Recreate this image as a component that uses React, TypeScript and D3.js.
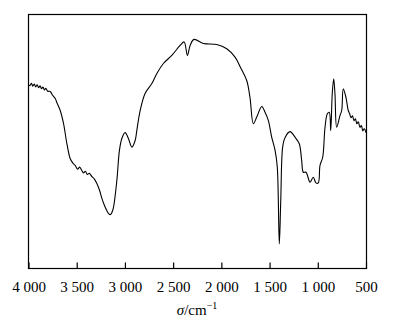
import React, { useEffect, useRef } from 'react';
import * as d3 from 'd3';

// wavenumber (cm-1) and relative transmittance
const wavenumbers = [
  4000, 3985, 3970, 3955, 3940, 3925, 3910, 3895, 3880, 3865, 3850, 3835, 3820, 3800, 3775, 3750, 3723, 3700, 3671,
  3637, 3602, 3568, 3540, 3516, 3490, 3470, 3447, 3430, 3410, 3390, 3370, 3343, 3320, 3291, 3265, 3239, 3210, 3188,
  3170, 3153, 3136, 3119, 3084, 3057, 3032, 2998, 2964, 2928, 2894, 2877, 2842, 2791, 2721, 2669, 2601, 2514, 2428,
  2386, 2352, 2324, 2283, 2186, 2048, 1944, 1858, 1796, 1737, 1703, 1668, 1633, 1581, 1547, 1513, 1478, 1443, 1420,
  1399, 1384, 1364, 1340, 1288, 1236, 1192, 1167, 1150, 1122, 1081, 1047, 1019, 995, 977, 949, 925, 901, 881, 866,
  850, 835, 822, 804, 770, 752, 736, 708, 684, 670, 655, 640, 625, 610, 595, 580, 563, 548, 533, 518, 500,
];
const transmittance = [
  72.4, 72.0, 72.9, 71.8, 72.6, 71.5, 72.3, 71.2, 71.9, 70.8, 71.4, 70.3, 70.9, 69.8, 69.7, 68.2, 66.9, 64.8, 62.2,
  57.1, 49.2, 43.3, 41.5, 40.6, 39.1, 39.9, 38.6, 37.6, 38.3, 37.0, 37.5, 36.2, 35.4, 33.5, 31.0, 27.6, 24.6, 22.8,
  21.7, 21.2, 22.0, 24.0, 34.6, 46.5, 51.2, 53.5, 51.2, 47.8, 50.4, 54.3, 62.2, 68.9, 72.8, 76.8, 80.7, 83.9, 87.8,
  89.2, 83.9, 87.8, 90.2, 88.6, 88.2, 86.5, 83.2, 78.7, 74.0, 67.3, 57.0, 59.6, 63.8, 61.5, 58.3, 51.7, 46.5, 39.9,
  9.7, 26.8, 47.9, 51.5, 53.9, 51.7, 49.1, 42.5, 37.9, 37.9, 34.0, 35.9, 33.7, 33.7, 40.6, 43.8, 55.6, 60.9, 61.5,
  54.3, 68.8, 74.7, 68.9, 55.6, 60.2, 62.2, 70.7, 67.4, 62.2, 61.0, 59.4, 60.1, 58.2, 58.9, 57.0, 57.8, 55.6, 56.3,
  54.2, 55.0, 53.5,
];

const xTicks = [4000, 3500, 3000, 2500, 2000, 1500, 1000, 500];
const xTickLabels = ['4 000', '3 500', '3 000', '2 500', '2 000', '1 500', '1 000', '500'];

const W = 398;
const H = 331;
const left = 28.5;
const right = 366.5;
const top = 14.5;
const bottom = 268.5;

export default function App() {
  const axisRef = useRef<SVGGElement>(null);

  const x = d3.scaleLinear().domain([4000, 500]).range([left, right - 0.5]);
  const y = d3.scaleLinear().domain([0, 100]).range([bottom, top]);

  const points = wavenumbers.map((w, i) => [w, transmittance[i]] as [number, number]);
  const line = d3
    .line<[number, number]>()
    .x((d) => x(d[0]))
    .y((d) => y(d[1]))
    .curve(d3.curveCatmullRom.alpha(0.5));

  useEffect(() => {
    const axis = d3
      .axisBottom(x)
      .tickValues(xTicks)
      .tickSizeInner(-6)
      .tickSizeOuter(0)
      .tickPadding(12.5)
      .tickFormat((d, i) => xTickLabels[i]);
    const g = d3.select(axisRef.current);
    g.call(axis as any);
    g.select('.domain').remove();
    g.selectAll('.tick line').attr('stroke', '#000').attr('stroke-width', 1.2);
    g.selectAll('.tick text')
      .attr('fill', '#000')
      .style('font-family', '"Liberation Serif", "Times New Roman", serif')
      .style('font-size', '15px');
  }, []);

  return (
    <svg
      width={W}
      height={H}
      style={{ position: 'absolute', left: 0, top: 0, background: '#fff' }}
    >
      <rect x={0} y={0} width={W} height={H} fill="#fff" />
      <path d={line(points) || ''} fill="none" stroke="#000" strokeWidth={1.1} strokeLinejoin="round" />
      <rect
        x={left}
        y={top}
        width={right - left}
        height={bottom - top}
        fill="none"
        stroke="#000"
        strokeWidth={1.2}
      />
      <g ref={axisRef} transform={`translate(0,${bottom})`} />
      <text
        x={197}
        y={315}
        textAnchor="middle"
        fill="#000"
        style={{ fontFamily: '"Liberation Serif", "Times New Roman", serif', fontSize: '15px' }}
      >
        <tspan fontStyle="italic">σ</tspan>
        <tspan>/cm</tspan>
        <tspan fontSize="10px" dy={-6}>−1</tspan>
      </text>
    </svg>
  );
}
